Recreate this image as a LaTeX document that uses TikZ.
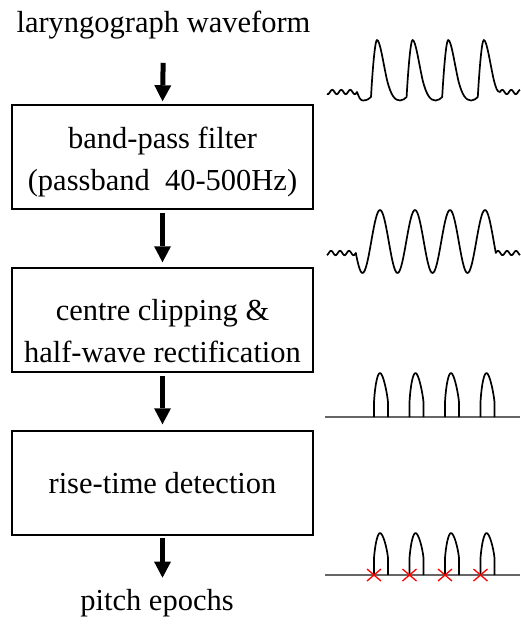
\documentclass[tikz,border=0pt]{standalone}
\usepackage{fontspec}
\setmainfont{Liberation Serif}
\usetikzlibrary{arrows.meta}
\tikzstyle{stage}=[draw, line width=1.5pt, minimum width=301pt, minimum height=104pt, inner sep=0pt, align=center]
\tikzstyle{signame}=[inner sep=0pt, anchor=base]
\tikzstyle{flow}=[-{Triangle[width=17pt,length=16pt,line width=0pt]}, line width=5pt]
\tikzstyle{wave}=[line width=1.7pt, line join=round]
\tikzstyle{flat}=[line width=1.3pt, black!60]
\tikzstyle{epoch}=[red, line width=1.3pt]

\begin{document}
\begin{tikzpicture}[x=1pt, y=-1pt, every node/.style={font=\fontsize{30.5}{42}\selectfont}]
\useasboundingbox (0,0) rectangle (520,637);

%blocks
\node[signame] (larynx) at (163.5,32) {laryngograph waveform};
\node[stage] (filter) at (162.5,157) {\rule{0pt}{32.4pt}band-pass filter\\(passband\ \ 40-500Hz)};
\node[stage] (clip) at (162.5,320) {\rule{0pt}{42.3pt}centre clipping \&\\half-wave rectification};
\node[stage] (rise) at (162.5,483) {rise-time detection};
\node[signame] (epochs) at (157,610.5) {pitch epochs};

\draw[flow, shorten <=24pt, shorten >=3pt] (larynx.south) -- (filter.north);
\draw[flow, shorten <=3pt, shorten >=5pt] (filter.south) -- (clip.north);
\draw[flow, shorten <=3pt, shorten >=6pt] (clip.south) -- (rise.north);
\draw[flow, shorten <=2pt, shorten >=11.5pt] (rise.south) -- (rise.south |- epochs.north);

%laryngograph signal
\draw[wave] plot[domain=327:357, samples=50, smooth] (\x,{92-2.2*sin(40*(\x-357))})
  .. controls (359,97) and (360,100.5) .. (363,100.5) .. controls (367,100.5) and (369.5,98.5) .. (371,97)
  \foreach \p in {377,412.6,448.2} {
    .. controls (\p-4.5,70) and (\p-2,40) .. (\p,40)
    .. controls (\p+3,40) and (\p+6,62) .. (\p+10,80)
    .. controls (\p+14,96) and (\p+18,100.5) .. (\p+23,100.5)
    .. controls (\p+26,100.5) and (\p+28,98.5) .. (\p+29.6,97) }
  .. controls (479.3,70) and (481.8,40) .. (483.8,40)
  .. controls (486.8,40) and (489.8,62) .. (493.8,80) .. controls (496,88) and (497,92) .. (500,92)
  -- plot[domain=500:520, samples=30, smooth] (\x,{92-2.2*sin(40*(\x-500))});

%filtered signal
\draw[wave] plot[domain=327:355.8, samples=50, smooth] (\x,{253-2.2*sin(40*(\x-355.8))})
  -- plot[domain=355.8:495.8, samples=140, smooth] (\x,{241.5-31.5*cos(10.2857*(\x-380))})
  -- plot[domain=495.8:520, samples=30, smooth] (\x,{253-2.2*sin(40*(\x-495.8))});

%rectified pulses and epochs
\foreach \yb/\ytop/\ysh in {417/373/402, 575/533/558}{
  \draw[flat] (325,\yb) -- (520,\yb);
  \foreach \L in {374,409.5,445,480.5}
    \draw[wave] (\L,\yb) -- (\L,\ysh) .. controls (\L+1,\ytop+12) and (\L+3.5,\ytop) .. (\L+6,\ytop)
      .. controls (\L+9,\ytop) and (\L+13,\ysh-10) .. (\L+14,\ysh) -- (\L+14,\yb);
}
\foreach \L in {374,409.5,445,480.5}
  \draw[epoch] (\L-7,569) -- (\L+7,581) (\L-7,581) -- (\L+7,569);

\end{tikzpicture}
\end{document}
